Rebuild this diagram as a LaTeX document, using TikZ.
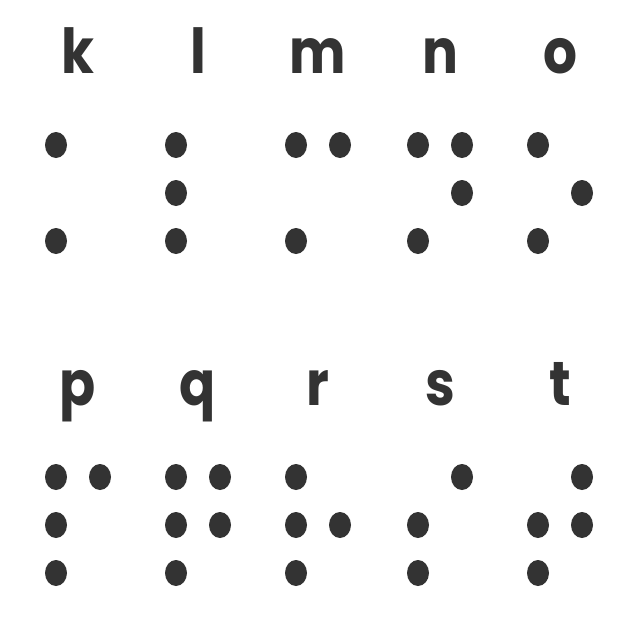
\documentclass[tikz,border=0pt]{standalone}
\usepackage{fontspec}
\setmainfont{Poppins}[FakeStretch=0.86]
\usetikzlibrary{shapes.geometric}
\definecolor{ink}{HTML}{333333}
\begin{document}
\begin{tikzpicture}[x=1pt,y=-1pt,every node/.style={text=ink},
  dot/.style={ellipse,fill=ink,inner sep=0pt,minimum width=22pt,minimum height=26pt},
  letter/.style={anchor=base,inner sep=0pt,font=\fontsize{62}{64}\selectfont\bfseries}]
\useasboundingbox[fill=white] (0,0) rectangle (640,640);
% letter / raised dots / left column x / top row y
\foreach \ltr/\dotlist/\cx/\cy in {k/{1,3}/56/145, l/{1,2,3}/176/145, m/{1,3,4}/296/145,
    n/{1,3,4,5}/418/145, o/{1,3,5}/538/145, p/{1,2,3,4}/56/477, q/{1,2,3,4,5}/176/477,
    r/{1,2,3,5}/296/477, s/{2,3,4}/418/477, t/{2,3,4,5}/538/477}{
  \node[letter] (\ltr) at (\cx+22,\cy-72) {\ltr};
  \foreach \d in \dotlist{
    \pgfmathtruncatemacro\dc{\d>3}
    \pgfmathtruncatemacro\dr{mod(\d-1,3)}
    \node[dot] (\ltr\d) at (\cx+\dc*44,\cy+\dr*48) {};
  }
}
\end{tikzpicture}
\end{document}
